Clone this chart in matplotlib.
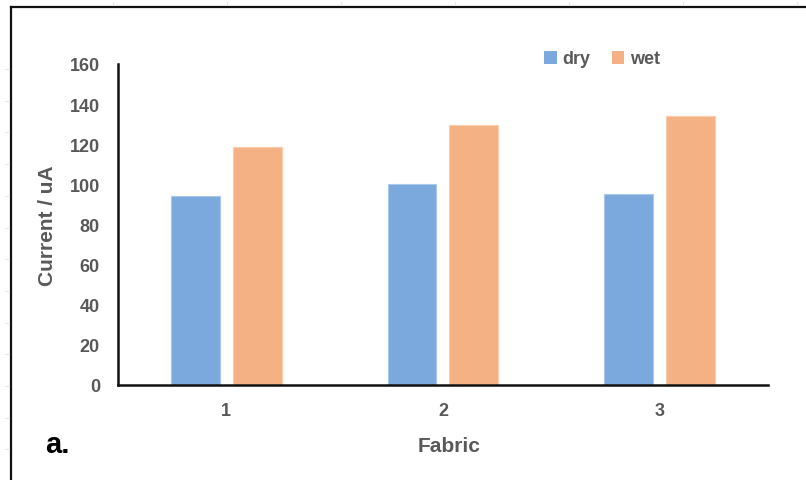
import numpy as np
import matplotlib
matplotlib.use("Agg")
import matplotlib.pyplot as plt
from matplotlib.lines import Line2D
from matplotlib.patches import Patch

plt.rcParams['font.family'] = ['Liberation Sans', 'DejaVu Sans']

# Data
fabrics = ["1", "2", "3"]
dry = [94.0, 100.0, 95.0]
wet = [118.7, 129.5, 134.3]
y_ticks = [0, 20, 40, 60, 80, 100, 120, 140, 160]

W, H = 806, 481
fig = plt.figure(figsize=(W / 100, H / 100), dpi=100)
fig.patch.set_facecolor("white")

ax = fig.add_axes([118 / W, 1 - 386 / H, (768 - 118) / W, (386 - 65) / H])

gray = "#595959"
c_dry = "#7BA9DD"
c_wet = "#F4B183"

x = np.arange(1, len(fabrics) + 1)
bw = 0.226
off = 0.143
ax.bar(x - off, dry, width=bw, color=c_dry, edgecolor="#A9C8EA", linewidth=0.8, label="dry")
ax.bar(x + off, wet, width=bw, color=c_wet, edgecolor="#F8CDAE", linewidth=0.8, label="wet")

ax.set_xlim(0.5, 3.5)
ax.set_ylim(0, 160)
ax.set_xticks(x)
ax.set_xticklabels(fabrics)
ax.set_yticks(y_ticks)
ax.tick_params(axis="both", length=0, labelsize=13, labelcolor=gray)
ax.tick_params(axis="y", pad=13)
ax.tick_params(axis="x", pad=12)
for lab in ax.get_xticklabels() + ax.get_yticklabels():
    lab.set_fontweight("bold")

for s in ["top", "right"]:
    ax.spines[s].set_visible(False)
for s in ["left", "bottom"]:
    ax.spines[s].set_linewidth(1.8)
    ax.spines[s].set_color("#111111")

ax.set_ylabel("Current / uA", fontsize=15, fontweight="bold", color=gray)
ax.yaxis.label.set_va("center")
ax.yaxis.set_label_coords((47 - 118) / 650, 0.5)
ax.set_xlabel("Fabric", fontsize=15, fontweight="bold", color=gray)
ax.xaxis.label.set_va("center")
ax.xaxis.set_label_coords((449 - 118) / 650, (386 - 447) / 321)

handles = [Patch(facecolor=c_dry, edgecolor="none"), Patch(facecolor=c_wet, edgecolor="none")]
leg = fig.legend(handles, ["dry", "wet"], loc="center", bbox_to_anchor=(602 / W, 1 - 60 / H),
                 ncol=2, frameon=False, handlelength=0.7, handleheight=0.7,
                 handletextpad=0.3, columnspacing=1.2,
                 prop={"size": 13, "weight": "bold"})
for t in leg.get_texts():
    t.set_color(gray)

# Panel letter
fig.text(45 / W, 1 - 453 / H, "a.", fontsize=21, fontweight="bold", color="black",
         va="baseline", ha="left")

# Outer frame
fy = 1 - 8 / H
fx = 11 / W
fig.add_artist(Line2D([fx, 1.0], [fy, fy], color="#111111", lw=1.6, transform=fig.transFigure))
fig.add_artist(Line2D([fx, fx], [fy, 0.0], color="#111111", lw=1.6, transform=fig.transFigure))

# Faint ruler ticks outside the frame
for px in np.arange(113, W, 114):
    fig.add_artist(Line2D([px / W, px / W], [1 - 3 / H, 1 - 6 / H], color="#E6E6E6", lw=0.8,
                          transform=fig.transFigure))
for py in np.arange(70, H, 31.7):
    fig.add_artist(Line2D([5 / W, 9 / W], [1 - py / H, 1 - py / H], color="#E6E6E6", lw=0.8,
                          transform=fig.transFigure))

fig.savefig("out.png", dpi=100, facecolor="white")
